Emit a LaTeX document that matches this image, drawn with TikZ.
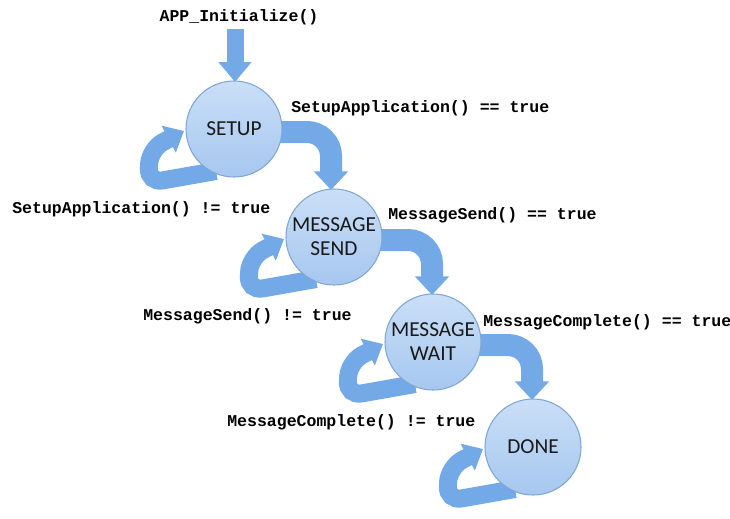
\documentclass[tikz,border=0pt]{standalone}
\usepackage{fontspec}
\newfontfamily\monob{Liberation Mono}
\newfontfamily\statefont{Carlito}
\usetikzlibrary{arrows.meta,calc}
\definecolor{arrowblue}{HTML}{74A9E8}
\definecolor{circtop}{HTML}{CADFF7}
\definecolor{circbot}{HTML}{A6C7EF}
\definecolor{circline}{HTML}{7FA6D6}
\tikzset{
  state/.style={circle, minimum size=72pt, inner sep=0pt, draw=circline, line width=0.8pt,
    top color=circtop, bottom color=circbot, font=\statefont\fontsize{16pt}{18pt}\selectfont,
    text=black!90, align=center},
  lbl/.style={inner sep=0pt, font=\monob\bfseries\fontsize{12.4pt}{14pt}\selectfont},
  entryarrow/.style={draw=arrowblue, line width=12.75pt, -{Triangle[width=24pt, length=15pt]}},
  trans/.style={draw=arrowblue, line width=16.5pt, rounded corners=18pt, -{Triangle[width=25pt, length=14pt]}},
  selfloop/.style={draw=arrowblue, line width=13.5pt, rounded corners=11pt, -{Triangle[width=22pt, length=13pt]}},
}
\begin{document}
\begin{tikzpicture}[x=0.75pt, y=-0.75pt]
\useasboundingbox (0,0) rectangle (730,518);
% coordinates of state centres
\coordinate (c1) at (234,129);
\coordinate (c2) at (334,237);
\coordinate (c3) at (433,342);
\coordinate (c4) at (533,447);
% entry
\coordinate (e0) at (235,29);
\coordinate (e1) at (235,82);
\draw[entryarrow] (e0) -- (e1);
% transitions
\draw[trans] ($(c1)+(20,3)$) -- ($(c1)+(97,3)$) -- ($(c2)+(-3,-47)$);
\draw[trans] ($(c2)+(20,3)$) -- ($(c2)+(98,3)$) -- ($(c3)+(-1,-47)$);
\draw[trans] ($(c3)+(20,3)$) -- ($(c3)+(99,3)$) -- ($(c4)+(-1,-47)$);
% self loops
\foreach \c in {c1,c2,c3,c4}{
  \draw[selfloop] ($(\c)+(-18,42)$) -- ($(\c)+(-86,54)$) -- ($(\c)+(-84,20)$) -- ($(\c)+(-50,2)$);
}
% states
\node[state] (setup) at (c1) {SETUP};
\node[state] (send) at (c2) {MESSAGE\\SEND};
\node[state] (wait) at (c3) {MESSAGE\\WAIT};
\node[state] (done) at (c4) {DONE};
% labels
\node[lbl] (l0) at (239,17) {APP\_Initialize()};
\node[lbl, anchor=west] (l1) at (291,108) {SetupApplication() == true};
\node[lbl, anchor=west] (l2) at (12,209) {SetupApplication() != true};
\node[lbl, anchor=west] (l3) at (388,215) {MessageSend() == true};
\node[lbl, anchor=west] (l4) at (143,316) {MessageSend() != true};
\node[lbl, anchor=west] (l5) at (483,322) {MessageComplete() == true};
\node[lbl, anchor=west] (l6) at (227,422) {MessageComplete() != true};
\end{tikzpicture}
\end{document}
